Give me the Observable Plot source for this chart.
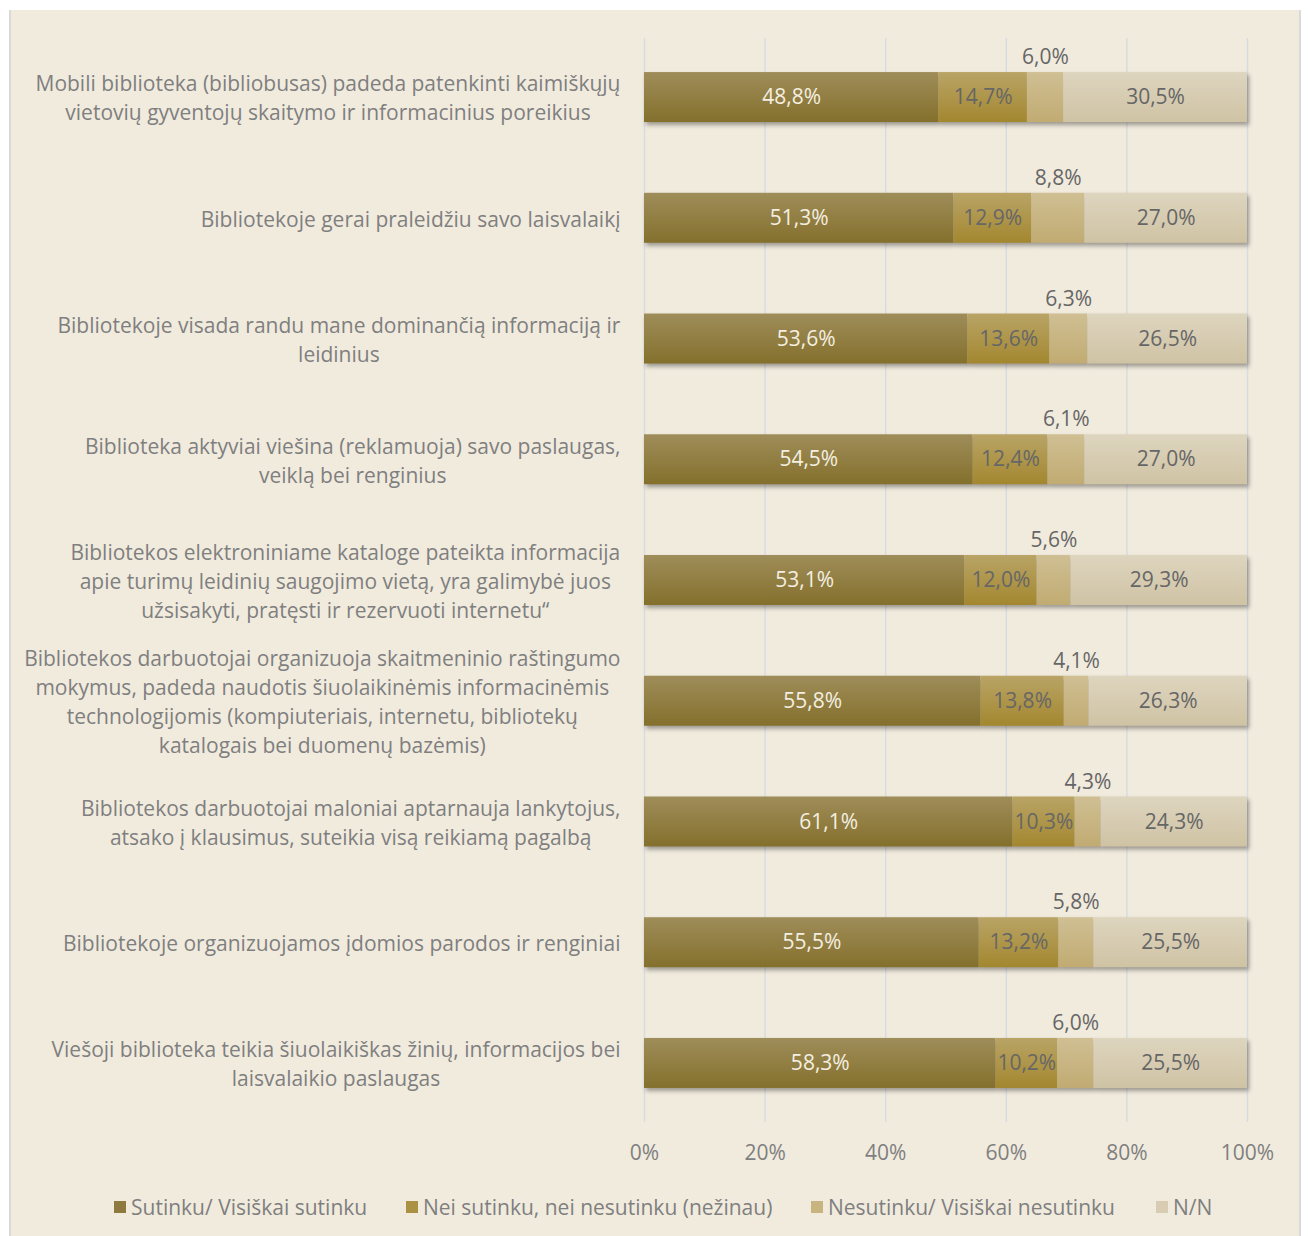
<!DOCTYPE html>
<html>
<head>
<meta charset="utf-8">
<script src="https://cdn.jsdelivr.net/npm/d3@7"></script>
<script src="https://cdn.jsdelivr.net/npm/@observablehq/plot@0.6"></script>
<style>
  html, body { margin: 0; padding: 0; background: #ffffff; }
  #frame { position: absolute; left: 9px; top: 10px; width: 1292px; height: 1226px; background: #f1ebde; border-left: 2px solid #d9d9d9; border-right: 2px solid #d9d9d9; box-sizing: border-box; }
  #chart { position: absolute; left: 0; top: 0; }
  #legend { position: absolute; top: 1184px; left: 0; width: 100%; height: 26px; font-family: "Open Sans", sans-serif; font-size: 21px; color: #7f7f7f; }
  .item { position: absolute; top: 0; display: flex; align-items: center; height: 26px; }
  .sw { width: 12px; height: 12px; margin-right: 5px; }
</style>
</head>
<body>
<svg width="0" height="0" style="position:absolute">
  <defs>
    <linearGradient id="g1" x1="0" y1="0" x2="0" y2="1"><stop offset="0" stop-color="#9f8d5a"/><stop offset="1" stop-color="#84702c"/></linearGradient>
    <linearGradient id="g2" x1="0" y1="0" x2="0" y2="1"><stop offset="0" stop-color="#b9a466"/><stop offset="1" stop-color="#a3872f"/></linearGradient>
    <linearGradient id="g3" x1="0" y1="0" x2="0" y2="1"><stop offset="0" stop-color="#cfbf93"/><stop offset="1" stop-color="#c1ab72"/></linearGradient>
    <linearGradient id="g4" x1="0" y1="0" x2="0" y2="1"><stop offset="0" stop-color="#ded5bf"/><stop offset="1" stop-color="#cfc3a4"/></linearGradient>
  </defs>
</svg>
<div id="frame">
  <div id="chart"></div>
  <div id="legend"></div>
</div>
<script>
const categories = [
  "Mobili biblioteka (bibliobusas) padeda patenkinti kaimiškųjų\nvietovių gyventojų skaitymo ir informacinius poreikius",
  "Bibliotekoje gerai praleidžiu savo laisvalaikį",
  "Bibliotekoje visada randu mane dominančią informaciją ir\nleidinius",
  "Biblioteka aktyviai viešina (reklamuoja) savo paslaugas,\nveiklą bei renginius",
  "Bibliotekos elektroniniame kataloge pateikta informacija\napie turimų leidinių saugojimo vietą, yra galimybė juos\nužsisakyti, pratęsti ir rezervuoti internetu“",
  "Bibliotekos darbuotojai organizuoja skaitmeninio raštingumo\nmokymus, padeda naudotis šiuolaikinėmis informacinėmis\ntechnologijomis (kompiuteriais, internetu, bibliotekų\nkatalogais bei duomenų bazėmis)",
  "Bibliotekos darbuotojai maloniai aptarnauja lankytojus,\natsako į klausimus, suteikia visą reikiamą pagalbą",
  "Bibliotekoje organizuojamos įdomios parodos ir renginiai",
  "Viešoji biblioteka teikia šiuolaikiškas žinių, informacijos bei\nlaisvalaikio paslaugas"
];
const seriesNames = ["Sutinku/ Visiškai sutinku", "Nei sutinku, nei nesutinku (nežinau)", "Nesutinku/ Visiškai nesutinku", "N/N"];
const agree    = [48.8, 51.3, 53.6, 54.5, 53.1, 55.8, 61.1, 55.5, 58.3];
const neutral  = [14.7, 12.9, 13.6, 12.4, 12.0, 13.8, 10.3, 13.2, 10.2];
const disagree = [6.0, 8.8, 6.3, 6.1, 5.6, 4.1, 4.3, 5.8, 6.0];
const nn       = [30.5, 27.0, 26.5, 27.0, 29.3, 26.3, 24.3, 25.5, 25.5];
const xTicks = [0, 20, 40, 60, 80, 100];
const fills = ["url(#g1)", "url(#g2)", "url(#g3)", "url(#g4)"];
const legendColors = ["#8e7a3f", "#ab9143", "#c8b47f", "#d8cdb3"];

const seriesValues = [agree, neutral, disagree, nn];
const data = [];
seriesValues.forEach((vals, s) => vals.forEach((v, i) => data.push({cat: categories[i], series: seriesNames[s], si: s, value: v})));
const fmt = v => v.toFixed(1).replace(".", ",") + "%";
const stackOpts = {x: "value", y: "cat", z: "series", order: seriesNames};

const plot = Plot.plot({
  width: 1288,
  height: 1175,
  marginLeft: 633,
  marginRight: 52,
  marginTop: 28,
  marginBottom: 63,
  style: {fontFamily: "'Open Sans', sans-serif", fontSize: "21px", background: "transparent", color: "#7f7f7f"},
  x: {domain: [0, 100]},
  y: {domain: categories, paddingInner: 0.586, paddingOuter: 0.282, round: false},
  color: {domain: seriesNames, range: fills},
  marks: [
    Plot.ruleX(xTicks, {stroke: "#d8dce2", strokeWidth: 1.5}),
    Plot.barX(data, Plot.stackX({...stackOpts, fill: "series"})),
    Plot.text(data, Plot.stackX({...stackOpts, text: d => d.si === 2 ? null : fmt(d.value), fill: d => d.si === 0 ? "#f4efe0" : "#666666"})),
    Plot.text(data, Plot.stackX({...stackOpts, text: d => d.si === 2 ? fmt(d.value) : null, fill: "#666666", dy: -40})),
    Plot.axisX({ticks: xTicks, tickSize: 0, tickPadding: 23, tickFormat: d => d + "%", label: null}),
    Plot.axisY({tickSize: 0, tickPadding: 24, lineHeight: 1.38, dy: -1, label: null})
  ]
});
document.getElementById("chart").appendChild(plot);

// center each multi-line y label within its block, right edge aligned
const yTexts = plot.querySelectorAll('g[aria-label="y-axis tick label"] text');
yTexts.forEach(t => {
  const w = t.getBBox().width;
  t.setAttribute("text-anchor", "middle");
  t.setAttribute("transform", (t.getAttribute("transform") || "") + ` translate(${-w / 2},0)`);
});
const barG = plot.querySelector('g[aria-label="bar"]');
if (barG) barG.style.filter = "drop-shadow(2px 3px 2px rgba(0,0,0,0.35))";

const legendLeft = [103, 395, 800, 1145];
const legend = document.getElementById("legend");
seriesNames.forEach((n, i) => {
  const it = document.createElement("div");
  it.className = "item";
  it.style.left = legendLeft[i] + "px";
  it.innerHTML = `<span class="sw" style="background:${legendColors[i]}"></span><span>${n}</span>`;
  legend.appendChild(it);
});
</script>
</body>
</html>
